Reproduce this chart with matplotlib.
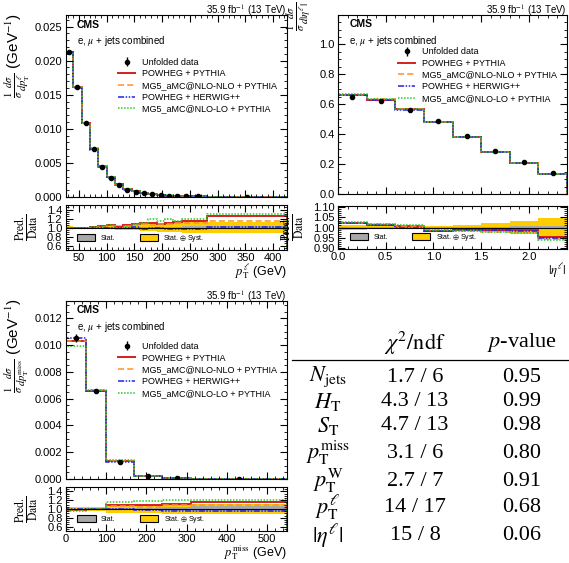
import numpy as np
import matplotlib
matplotlib.use("Agg")
import matplotlib.pyplot as plt
from matplotlib.lines import Line2D
from matplotlib.patches import Patch
from matplotlib.ticker import MultipleLocator

plt.rcParams['font.family'] = ['Liberation Sans', 'DejaVu Sans']
plt.rcParams['mathtext.fontset'] = 'stix'

## ---------------- data ----------------
# lepton pT
ptl_edges = [26, 40, 55, 70, 85, 100, 115, 130, 145, 160, 175, 190, 205, 220, 235, 250, 280, 425]
ptl_data = [0.0213, 0.0161, 0.0109, 0.0070, 0.0044, 0.0028, 0.0018, 0.0011, 0.00080, 0.00055,
            0.00040, 0.00030, 0.00020, 0.00015, 0.00010, 0.00008, 0.00003]
ptl_err = [0.0003, 0.0002, 0.00015, 0.0001, 0.00008, 0.00006, 0.00005, 0.00004, 0.00003, 0.00003,
           0.00002, 0.00002, 0.00002, 0.00002, 0.00001, 0.00001, 0.00001]
ptl_r_powpy = [1.0, 1.0, 1.0, 1.01, 1.03, 1.05, 1.02, 1.05, 1.07, 1.1, 1.1, 1.08, 1.1, 1.12, 1.15, 1.15, 1.25]
ptl_r_mgnlo = [0.99, 1.0, 1.0, 1.0, 1.02, 1.03, 1.0, 1.03, 1.05, 1.07, 1.05, 1.07, 1.08, 1.1, 1.1, 1.1, 1.15]
ptl_r_powhw = [1.0, 0.99, 0.99, 0.99, 1.0, 1.0, 0.98, 1.0, 1.01, 0.97, 0.99, 1.0, 0.97, 0.97, 0.96, 0.96, 1.02]
ptl_r_mglo = [1.0, 1.0, 1.0, 1.02, 1.03, 1.05, 1.0, 1.03, 1.08, 1.1, 1.2, 1.15, 1.2, 1.15, 1.2, 1.2, 1.3]
ptl_stat = [0.005, 0.005, 0.006, 0.007, 0.008, 0.009, 0.01, 0.012, 0.013, 0.015, 0.017, 0.018, 0.02, 0.022, 0.025, 0.028, 0.035]
ptl_tot = [0.03, 0.02, 0.02, 0.03, 0.04, 0.04, 0.05, 0.05, 0.06, 0.07, 0.08, 0.09, 0.1, 0.1, 0.12, 0.12, 0.13]

# lepton |eta|
eta_edges = [0.0, 0.3, 0.6, 0.9, 1.2, 1.5, 1.8, 2.1, 2.4]
eta_data = [0.650, 0.625, 0.565, 0.487, 0.387, 0.287, 0.212, 0.142]
eta_err = [0.006, 0.005, 0.005, 0.004, 0.004, 0.003, 0.003, 0.003]
eta_r_powpy = [1.02, 1.01, 1.005, 0.985, 0.99, 0.99, 0.99, 0.955]
eta_r_mgnlo = [1.02, 1.015, 1.005, 0.99, 0.985, 0.98, 0.98, 0.945]
eta_r_powhw = [1.02, 1.01, 1.0, 0.985, 0.99, 0.99, 0.985, 0.95]
eta_r_mglo = [1.025, 1.015, 1.01, 0.99, 0.985, 0.98, 0.975, 0.94]
eta_stat = [0.003, 0.003, 0.003, 0.003, 0.004, 0.004, 0.005, 0.006]
eta_tot = [0.01, 0.008, 0.007, 0.007, 0.01, 0.02, 0.03, 0.045]

# missing pT
met_edges = [0, 50, 100, 170, 240, 310, 550]
met_data = [0.0105, 0.0066, 0.00125, 0.00020, 0.00004, 0.000005]
met_err = [0.0003, 0.0001, 0.00005, 0.00002, 0.00001, 0.000003]
met_r_powpy = [0.98, 1.0, 1.1, 1.1, 1.12, 1.15]
met_r_mgnlo = [0.98, 1.01, 1.06, 1.05, 1.1, 1.08]
met_r_powhw = [1.0, 1.0, 1.0, 0.97, 0.95, 0.95]
met_r_mglo = [0.95, 1.01, 1.15, 1.18, 1.2, 1.2]
met_stat = [0.01, 0.01, 0.02, 0.03, 0.05, 0.06]
met_tot = [0.05, 0.05, 0.1, 0.1, 0.12, 0.12]

# table
tab_vars = [r"$N_{\mathrm{jets}}$", r"$H_{\mathrm{T}}$", r"$S_{\mathrm{T}}$",
            r"$p_{\mathrm{T}}^{\mathrm{miss}}$", r"$p_{\mathrm{T}}^{\mathrm{W}}$",
            r"$p_{\mathrm{T}}^{\ell}$", r"$|\eta^{\ell}|$"]
tab_chi2 = ["1.7 / 6", "4.3 / 13", "4.7 / 13", "3.1 / 6", "2.7 / 7", "14 / 17", "15 / 8"]
tab_pval = ["0.95", "0.99", "0.98", "0.80", "0.91", "0.68", "0.06"]

## ---------------- styles ----------------
models = [("POWHEG + PYTHIA", "#d42020", "-", 1.4),
          ("MG5_aMC@NLO-NLO + PYTHIA", "#ff9030", (0, (4, 2)), 1.1),
          ("POWHEG + HERWIG++", "#2020ee", (0, (4, 1, 1, 1, 1, 1)), 1.1),
          ("MG5_aMC@NLO-LO + PYTHIA", "#22cc22", (0, (1, 1)), 1.1)]

W, H = 569, 563
fig = plt.figure(figsize=(W / 100, H / 100), dpi=100)


def ax_px(l, t, r, b):
    return fig.add_axes([l / W, 1 - b / H, (r - l) / W, (b - t) / H])


def style(ax):
    ax.tick_params(which='both', direction='in', top=True, right=True, labelsize=8, pad=2.5)
    ax.tick_params(which='major', length=5)
    ax.tick_params(which='minor', length=2.5)
    for s in ax.spines.values():
        s.set_linewidth(0.8)


def draw(main, ratio, edges, data, err, ratios, stat, tot, xlim, ylim, rlim,
         xmaj, xmin, ymaj, ymin, rmaj, rmin, ylabel, ylpos, xlabel, legx, legy):
    edges = np.array(edges)
    data = np.array(data)
    centers = 0.5 * (edges[1:] + edges[:-1])
    for (name, c, ls, lw), r in zip(models, ratios):
        main.stairs(data * np.array(r), edges, color=c, ls=ls, lw=lw)
    ebar = main.errorbar(centers, data, yerr=err, fmt='o', color='black', ms=3,
                         elinewidth=1, capsize=0)
    main.set_xlim(xlim)
    main.set_ylim(ylim)
    main.xaxis.set_major_locator(MultipleLocator(xmaj))
    main.xaxis.set_minor_locator(MultipleLocator(xmin))
    main.yaxis.set_major_locator(MultipleLocator(ymaj))
    main.yaxis.set_minor_locator(MultipleLocator(ymin))
    main.set_xticklabels([])
    style(main)
    # y title, top aligned (ROOT style)
    fig.text(ylpos[0] / W, 1 - ylpos[1] / H, ylabel, fontsize=11, rotation=90,
             ha='center', va='top')
    main.text(1.0, 1.008, r"35.9 fb$^{-1}$ (13 TeV)", transform=main.transAxes,
              ha='right', va='baseline', fontsize=7)
    main.text(0.05, 0.975, "CMS", transform=main.transAxes, fontsize=7.5,
              fontweight='bold', va='top')
    main.text(0.05, 0.895, r"e, $\mu$ + jets combined", transform=main.transAxes,
              fontsize=7, va='top')
    handles = [ebar]
    labels = ["Unfolded data"]
    for name, c, ls, lw in models:
        handles.append(Line2D([], [], color=c, ls=ls, lw=lw))
        labels.append(name)
    main.legend(handles, labels, loc='upper left', bbox_to_anchor=(legx, legy),
                frameon=False, fontsize=6.5, handlelength=1.9, labelspacing=0.3,
                borderpad=0, borderaxespad=0, handletextpad=0.8)

    # ratio panel
    one = np.ones(len(data))
    ratio.stairs(one + np.array(tot), edges, baseline=one - np.array(tot), fill=True,
                 color='#ffcc00', lw=0)
    ratio.stairs(one + np.array(stat), edges, baseline=one - np.array(stat), fill=True,
                 color='#a8a8a8', lw=0)
    ratio.axhline(1.0, color='black', lw=0.8)
    for (name, c, ls, lw), r in zip(models, ratios):
        ratio.stairs(r, edges, color=c, ls=ls, lw=lw)
    ratio.set_xlim(xlim)
    ratio.set_ylim(rlim)
    ratio.xaxis.set_major_locator(MultipleLocator(xmaj))
    ratio.xaxis.set_minor_locator(MultipleLocator(xmin))
    ratio.yaxis.set_major_locator(MultipleLocator(rmaj))
    ratio.yaxis.set_minor_locator(MultipleLocator(rmin))
    style(ratio)
    ratio.set_ylabel(r"$\frac{\mathrm{Pred.}}{\mathrm{Data}}$", fontsize=12)
    ratio.set_xlabel(xlabel, fontsize=9, loc='right', labelpad=-0.5)
    bh = [Patch(facecolor='#a8a8a8', edgecolor='black', lw=0.8),
          Patch(facecolor='#ffcc00', edgecolor='black', lw=0.8)]
    ratio.legend(bh, ["Stat.", r"Stat. $\oplus$ Syst."], loc='lower left', ncol=2,
                 frameon=False, fontsize=5, handlelength=2.6, handleheight=1.0,
                 columnspacing=3.5, borderaxespad=0.3, bbox_to_anchor=(0.03, 0.03))


# panel 1: lepton pT
m1 = ax_px(65.5, 15, 287, 197)
r1 = ax_px(65.5, 205, 287, 250)
draw(m1, r1, ptl_edges, ptl_data, ptl_err,
     [ptl_r_powpy, ptl_r_mgnlo, ptl_r_powhw, ptl_r_mglo], ptl_stat, ptl_tot,
     (26, 425), (0, 0.0267), (0.5, 1.5), 50, 10, 0.005, 0.001, 0.2, 0.05,
     r"$\frac{1}{\sigma}\frac{d\sigma}{dp_{\mathrm{T}}^{\ell}}$ (GeV$^{-1}$)", (17, 13),
     r"$p_{\mathrm{T}}^{\ell}$ (GeV)", 0.237, 0.765)

# panel 2: lepton |eta|
m2 = ax_px(338, 15, 567, 194)
r2 = ax_px(338, 206, 567, 249)
draw(m2, r2, eta_edges, eta_data, eta_err,
     [eta_r_powpy, eta_r_mgnlo, eta_r_powhw, eta_r_mglo], eta_stat, eta_tot,
     (0, 2.4), (0, 1.197), (0.895, 1.105), 0.5, 0.1, 0.2, 0.05, 0.05, 0.01,
     r"$\frac{1}{\sigma}\frac{d\sigma}{d|\eta^{\ell}|}$", (299, 2),
     r"$|\eta^{\ell}|$", 0.262, 0.82)

# panel 3: missing pT
m3 = ax_px(66, 301, 287, 479)
r3 = ax_px(66, 487, 287, 531)
draw(m3, r3, met_edges, met_data, met_err,
     [met_r_powpy, met_r_mgnlo, met_r_powhw, met_r_mglo], met_stat, met_tot,
     (0, 550), (0, 0.0133), (0.5, 1.5), 100, 20, 0.002, 0.0005, 0.2, 0.05,
     r"$\frac{1}{\sigma}\frac{d\sigma}{dp_{\mathrm{T}}^{\mathrm{miss}}}$ (GeV$^{-1}$)", (17, 299),
     r"$p_{\mathrm{T}}^{\mathrm{miss}}$ (GeV)", 0.235, 0.77)

# table
tf = dict(fontsize=16, family='Liberation Serif', ha='center', va='center')
fig.text(415 / W, 1 - 343 / H, r"$\chi^2/\mathrm{ndf}$", **tf)
fig.text(522 / W, 1 - 343 / H, r"$p$-value", **tf)
fig.add_artist(Line2D([292 / W, 569 / W], [1 - 360 / H, 1 - 360 / H], color='black', lw=0.9))
row_y = [377, 402, 426, 453, 481, 507, 536]
for v, c, p, y in zip(tab_vars, tab_chi2, tab_pval, row_y):
    fig.text(328 / W, 1 - y / H, v, **tf)
    fig.text(415 / W, 1 - y / H, c, **tf)
    fig.text(522 / W, 1 - y / H, p, **tf)

fig.savefig("out.png", dpi=100)
